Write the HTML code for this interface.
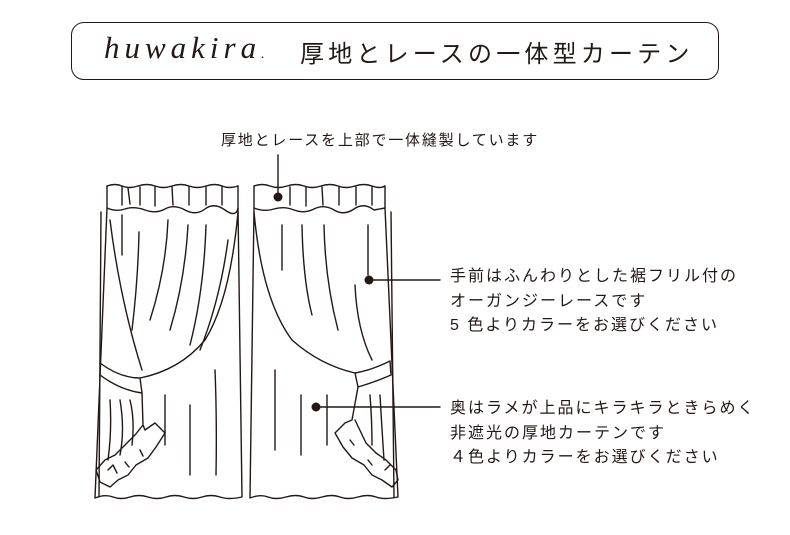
<!DOCTYPE html>
<html><head><meta charset="utf-8"><style>
body{margin:0;width:790px;height:535px;background:#fff;overflow:hidden;position:relative;font-family:"Liberation Sans","Noto Sans CJK JP",sans-serif;color:#231815}
.box{position:absolute;left:71px;top:22px;width:648px;height:58px;border:1.3px solid #231815;border-radius:13px;box-sizing:border-box}
.t{position:absolute;white-space:nowrap}
</style></head><body>
<div class="box"></div>
<div class="t" style="left:104px;top:30px;font-family:'Liberation Serif',serif;font-style:italic;font-size:31px;letter-spacing:5px">huwakira<span style="font-size:14px">.</span></div>
<div class="t" style="left:300px;top:34px;font-size:24px;letter-spacing:4.2px">厚地とレースの一体型カーテン</div>
<div class="t" style="left:221px;top:129px;font-size:15px;letter-spacing:1.8px">厚地とレースを上部で一体縫製しています</div>
<div class="t" style="left:450px;top:265px;font-size:16px;line-height:24.5px;letter-spacing:2px">手前はふんわりとした裾フリル付の<br>オーガンジーレースです<br>5 色よりカラーをお選びください</div>
<div class="t" style="left:450px;top:397px;font-size:16px;line-height:24.5px;letter-spacing:2px">奥はラメが上品にキラキラときらめく<br>非遮光の厚地カーテンです<br>４色よりカラーをお選びください</div>
<svg width="790" height="535" style="position:absolute;left:0;top:0" fill="none" stroke="#231815" stroke-width="1.4" stroke-linecap="round" stroke-linejoin="round">
<!-- left curtain -->
<path d="M107 186 Q115 183 122 186 T138 186 T155 186 T172 186 T189 186 T206 186 T222 186 T238 186"/>
<path d="M107 186 V208 Q116 212 125 209 T145 210 T165 209 T185 210 T205 209 T225 210 T238 208 V186"/>
<path d="M122 187 v18 M128 188 l2 16 M140 187 v18 M155 187 v19 M172 187 l1 18 M189 187 v18 M206 187 v18 M222 187 v18"/>
<path d="M107 208 L95 498 Q105 494 113 497 T130 497 T148 497 T166 497 T184 497 T202 497 T220 497 T242 497 L238 208"/>
<path d="M101 212 L99 497"/>
<path d="M238 212 Q230 300 205 340 Q180 370 140 378"/>
<path d="M110 220 Q120 300 142 370"/>
<path d="M100 363 Q120 378 140 378 L140 378 L142 393 Q120 390 100 375"/>
<path d="M122 215 v40 M139 232 Q138 280 132 330 M168 220 Q166 270 150 320 M188 225 Q185 280 170 330 M206 225 Q204 290 190 345 M228 240 Q220 300 200 350"/>
<path d="M142 393 L143 425 L145 430 L155 423 L165 433 L156 447 L148 458 L136 465 L128 475 L118 480 L110 487 L100 482 L96 470 L105 460 L115 455 L125 445 L135 435 L143 425"/>
<path d="M108 470 l5 -5 l4 8 M125 462 l4 5 M140 450 l3 6"/>
<path d="M110 400 Q112 430 108 460 M120 400 Q125 430 120 455 M130 400 Q135 420 132 445"/>
<path d="M165 395 v50 M190 405 v70 M215 370 Q217 420 216 475"/>
<!-- right curtain -->
<path d="M254 186 Q262 183 270 186 T287 186 T304 186 T321 186 T338 186 T355 186 T372 186 T385 186"/>
<path d="M254 186 V208 Q264 212 274 209 T294 210 T314 209 T334 210 T354 209 T374 210 L385 208 V186"/>
<path d="M290 187 v18 M306 187 v19 M322 187 l1 18 M339 187 v18 M356 187 v18 M372 187 v18"/>
<path d="M254 208 L250 498 Q260 494 268 497 T286 497 T304 497 T322 497 T340 497 T358 497 T376 497 T398 497 L385 208"/>
<path d="M391 212 L394 497"/>
<path d="M254 212 Q262 300 292 340 Q320 365 355 373"/>
<path d="M355 373 Q372 370 390 361 L391 375 Q375 382 358 387 Z"/>
<path d="M282 225 v45 M302 225 Q303 280 312 315 M324 225 Q325 280 338 330 M368 225 v50 M355 285 Q357 330 372 360"/>
<path d="M358 387 L352 420 L345 423 L335 433 L343 447 L352 458 L364 465 L372 475 L382 480 L392 487 L398 480 L396 470 L386 460 L376 453 L366 443 L355 420"/>
<path d="M385 470 l5 -5 M368 460 l4 5 M350 440 l4 5"/>
<path d="M370 395 Q372 420 372 445 M380 395 Q382 430 384 460"/>
<path d="M275 370 v80 M301 395 v60 M327 395 v50"/>
<!-- callouts -->
<path d="M278 155 V197 M369 280 H440 M316 407 H440"/>
<circle cx="278" cy="197" r="4.5" fill="#231815" stroke="none"/>
<circle cx="369" cy="280" r="4.5" fill="#231815" stroke="none"/>
<circle cx="316" cy="407" r="4.5" fill="#231815" stroke="none"/>
</svg>
</body></html>
